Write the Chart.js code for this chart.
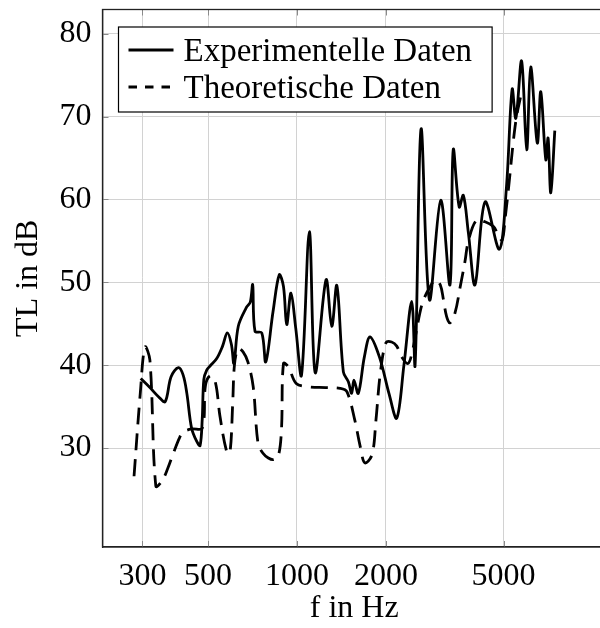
<!DOCTYPE html>
<html><head><meta charset="utf-8">
<script src="https://cdn.jsdelivr.net/npm/chart.js@4/dist/chart.umd.min.js"></script>
<style>html,body{margin:0;padding:0;overflow:hidden;background:#fff}canvas{display:block}</style>
</head><body>
<canvas id="c" width="610" height="628"></canvas>
<script>
// ---- data ----
const expFreq = [296,318,340,358,375,397,412,424,440,458,470,478,484,495,508,535,560,581,600,612,633,675,695,708,721,760,784,830,871,900,923,954,990,1036,1101,1152,1254,1311,1364,1435,1492,1531,1558,1612,1690,1766,1900,2050,2175,2300,2444,2509,2628,2805,3063,3292,3377,3537,3653,3799,4001,4326,4836,5112,5344,5500,5751,5985,6174,6500,6678,6945,7070,7220,7450];
const expTL   = [38.4,37.3,36.2,35.6,38.6,39.7,38.8,36.6,32.4,30.8,30.3,33.5,38.3,39.4,39.9,40.8,42.3,43.9,42.5,40.2,44.7,47.0,47.6,49.7,44.1,43.9,40.4,46.5,50.9,49.5,44.9,48.7,44.5,38.8,56.1,39.1,50.3,44.7,49.6,39.2,38.0,36.6,38.2,36.6,41.0,43.4,41.0,36.5,33.6,40.0,47.7,40.0,68.5,47.9,59.9,49.7,66.0,59.1,60.5,56.0,49.7,59.7,54.0,61.5,73.3,69.8,76.7,66.0,76.0,66.8,73.0,64.8,67.4,60.8,68.3];

const theoFreq = [281,295,306,318,333,349,365,382,400,411,440,478,490,508,529,549,578,593,606,615,633,657,682,711,738,766,800,832,864,886,900,935,994,1092,1250,1399,1475,1568,1636,1697,1794,1850,1913,2000,2090,2175,2258,2372,2450,2604,2680,2823,2935,3052,3129,3206,3292,3424,3567,3700,3800,4047,4326,4630,4760,4941,5066,5200,5400,5530,5700];
const theoTL   = [26.6,36.6,42.2,40.6,25.4,26.0,27.5,29.4,31.2,31.9,32.3,32.4,37.5,38.7,38.0,33.8,29.6,29.4,35.4,40.2,42.0,41.6,40.4,37.4,30.6,29.4,28.8,28.6,29.0,32.2,40.2,39.8,37.8,37.4,37.3,37.2,36.8,33.4,30.2,28.2,29.2,33.4,39.0,42.7,42.8,42.3,41.0,40.2,41.5,46.3,47.9,49.5,50.3,49.7,47.9,45.9,45.1,46.3,49.5,52.5,55.0,57.5,57.3,56.7,55.9,55.1,57.9,61.5,67.2,70.0,72.3];

const xTickValues = [300, 500, 1000, 2000, 5000];
const yTickValues = [30, 40, 50, 60, 70, 80];
const seriesLabels = ['Experimentelle Daten', 'Theoretische Daten'];
const xTitle = 'f in Hz';
const yTitle = 'TL in dB';

const FONT = "'Liberation Serif', 'Times New Roman', serif";

const frameAndTicks = {
  id: 'frameAndTicks',
  beforeDatasetsDraw(chart) {
    const ctx = chart.ctx, a = chart.chartArea;
    const xs = chart.scales.x, ys = chart.scales.y;
    ctx.save();
    ctx.strokeStyle = '#8a8a8a';
    ctx.lineWidth = 1;
    ctx.beginPath();
    xTickValues.forEach(v => {
      const px = Math.round(xs.getPixelForValue(v)) + 0.5;
      ctx.moveTo(px, a.bottom); ctx.lineTo(px, a.bottom - 6);
      ctx.moveTo(px, a.top); ctx.lineTo(px, a.top + 6);
    });
    yTickValues.forEach(v => {
      const py = Math.round(ys.getPixelForValue(v)) + 0.5;
      ctx.moveTo(a.left, py); ctx.lineTo(a.left + 6, py);
      ctx.moveTo(a.right, py); ctx.lineTo(a.right - 6, py);
    });
    ctx.stroke();
    ctx.restore();
  },
  afterDraw(chart) {
    const ctx = chart.ctx, a = chart.chartArea;
    ctx.save();
    ctx.strokeStyle = '#222';
    ctx.lineWidth = 1.3;
    ctx.strokeRect(a.left, a.top, a.right - a.left, a.bottom - a.top);
    ctx.restore();
  }
};

const legendBox = {
  id: 'legendBox',
  afterDraw(chart) {
    const ctx = chart.ctx, a = chart.chartArea;
    const ds = chart.data.datasets;
    const x0 = a.left + 16, y0 = a.top + 17.5;
    ctx.save();
    ctx.font = '33px ' + FONT;
    const tw = Math.max(...ds.map(d => ctx.measureText(d.label).width));
    const sampleX = x0 + 10, sampleW = 45, textX = x0 + 65;
    const w = 65 + tw + 20, h = 85;
    ctx.fillStyle = '#fff';
    ctx.fillRect(x0, y0, w, h);
    ctx.strokeStyle = '#000';
    ctx.lineWidth = 1.2;
    ctx.strokeRect(x0, y0, w, h);
    ds.forEach((d, i) => {
      const cy = y0 + 23 + 37 * i;
      ctx.beginPath();
      ctx.lineWidth = d.borderWidth;
      ctx.strokeStyle = d.borderColor;
      ctx.setLineDash(i === 0 ? [] : [8.5, 8]);
      ctx.moveTo(sampleX, cy); ctx.lineTo(sampleX + sampleW, cy);
      ctx.stroke();
      ctx.setLineDash([]);
      ctx.fillStyle = '#000';
      ctx.textBaseline = 'alphabetic';
      ctx.textAlign = 'left';
      ctx.fillText(d.label, textX, cy + 10.5);
    });
    ctx.restore();
  }
};

new Chart(document.getElementById('c'), {
  type: 'line',
  data: {
    datasets: [
      {
        label: seriesLabels[0],
        data: expFreq.map((f, i) => ({ x: f, y: expTL[i] })),
        borderColor: '#000', borderWidth: 2.8, pointRadius: 0,
        tension: 0.35, fill: false
      },
      {
        label: seriesLabels[1],
        data: theoFreq.map((f, i) => ({ x: f, y: theoTL[i] })),
        borderColor: '#000', borderWidth: 2.8, pointRadius: 0,
        borderDash: [17, 9], tension: 0.35, fill: false
      }
    ]
  },
  options: {
    responsive: false,
    animation: false,
    devicePixelRatio: 1,
    layout: { padding: { top: 9.5, right: 4, left: 0, bottom: 0 } },
    plugins: { legend: { display: false }, tooltip: { enabled: false } },
    scales: {
      x: {
        type: 'logarithmic',
        min: 219.8, max: 11100,
        afterBuildTicks: s => { s.ticks = xTickValues.map(v => ({ value: v })); },
        afterFit: s => { s.height = 81; s.paddingLeft = 0; s.paddingRight = 0; },
        ticks: {
          autoSkip: false, maxRotation: 0, minRotation: 0, padding: 10,
          color: '#000', font: { family: FONT, size: 32 },
          callback: v => String(v)
        },
        grid: { color: '#d2d2d2', lineWidth: 1, drawTicks: false },
        border: { color: '#222', width: 1.3 },
        title: { display: true, text: xTitle, color: '#000', font: { family: FONT, size: 32 }, padding: { top: 0, bottom: 0 } }
      },
      y: {
        type: 'linear',
        min: 18.06, max: 82.92,
        afterBuildTicks: s => { s.ticks = yTickValues.map(v => ({ value: v })); },
        afterFit: s => { s.width = 102.5; s.paddingTop = 0; s.paddingBottom = 0; },
        ticks: { padding: 11, color: '#000', font: { family: FONT, size: 32 } },
        grid: { color: '#d2d2d2', lineWidth: 1, drawTicks: false },
        border: { color: '#222', width: 1.3 },
        title: { display: true, text: yTitle, color: '#000', font: { family: FONT, size: 32 }, padding: { top: 9, bottom: 0 } }
      }
    }
  },
  plugins: [frameAndTicks, legendBox]
});
</script>
</body></html>
